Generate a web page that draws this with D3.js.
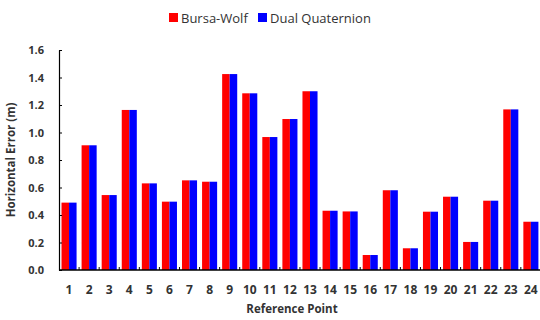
<!DOCTYPE html>
<html>
<head>
<meta charset="utf-8">
<script src="https://cdn.jsdelivr.net/npm/d3@7"></script>
<style>
  body { margin: 0; background: #fff; }
  svg text { font-family: "Open Sans", sans-serif; fill: #333; }
  .tick-label { font-weight: 700; font-size: 11px; }
  .axis-title { font-weight: 700; font-size: 11.5px; }
  .legend-text { font-size: 13px; }
</style>
</head>
<body>
<div id="chart"></div>
<script>
// Horizontal error per reference point, two transformation methods
const points = ["1","2","3","4","5","6","7","8","9","10","11","12","13","14","15","16","17","18","19","20","21","22","23","24"];
const bursaWolf = [0.49, 0.907, 0.545, 1.164, 0.63, 0.497, 0.652, 0.642, 1.425, 1.285, 0.967, 1.098, 1.3, 0.431, 0.426, 0.109, 0.58, 0.158, 0.424, 0.533, 0.204, 0.504, 1.168, 0.351];
const dualQuaternion = [0.49, 0.907, 0.545, 1.164, 0.63, 0.497, 0.652, 0.642, 1.425, 1.285, 0.967, 1.098, 1.3, 0.431, 0.426, 0.109, 0.58, 0.158, 0.424, 0.533, 0.204, 0.504, 1.168, 0.351];
const seriesNames = ["Bursa-Wolf", "Dual Quaternion"];
const seriesColors = ["#ff0000", "#0000ff"];
const yTicks = [0, 0.2, 0.4, 0.6, 0.8, 1.0, 1.2, 1.4, 1.6];

const width = 540, height = 320;
const margin = { top: 50, right: 0, bottom: 50, left: 59 };

const svg = d3.select("#chart").append("svg")
    .attr("width", width)
    .attr("height", height);

const x = d3.scaleBand()
    .domain(points)
    .range([margin.left, margin.left + 24 * 20.08])
    .paddingInner(0.25)
    .paddingOuter(0.125);

const xSub = d3.scaleBand()
    .domain(seriesNames)
    .range([0, x.bandwidth()]);

const y = d3.scaleLinear()
    .domain([0, 1.6])
    .range([height - margin.bottom, margin.top]);

const rows = points.map((p, i) => ({ point: p, values: [bursaWolf[i], dualQuaternion[i]] }));

// bars
const groups = svg.append("g").selectAll("g")
    .data(rows)
    .enter().append("g")
    .attr("transform", d => `translate(${x(d.point)},0)`);

groups.selectAll("rect")
    .data(d => d.values.map((v, k) => ({ name: seriesNames[k], value: v, k })))
    .enter().append("rect")
    .attr("x", d => xSub(d.name))
    .attr("y", d => y(d.value))
    .attr("width", xSub.bandwidth())
    .attr("height", d => y(0) - y(d.value))
    .attr("fill", d => seriesColors[d.k]);

// y axis, ticks pointing inward
const yAxis = svg.append("g")
    .attr("transform", `translate(${margin.left},0)`)
    .call(d3.axisLeft(y).tickValues(yTicks).tickFormat(d3.format(".1f")).tickSize(-3).tickSizeOuter(0).tickPadding(15));
yAxis.select(".domain").attr("stroke", "#000").attr("stroke-width", 1.2);
yAxis.selectAll(".tick line").attr("stroke", "#000");
yAxis.selectAll(".tick text").attr("class", "tick-label");

// x axis: ticks sit between categories
const step = x.step();
const xAxis = svg.append("g")
    .attr("transform", `translate(0,${y(0)})`);
xAxis.append("line")
    .attr("x1", margin.left).attr("x2", width)
    .attr("stroke", "#000").attr("stroke-width", 1.5);
xAxis.selectAll("line.sep")
    .data(points.slice(1))
    .enter().append("line")
    .attr("class", "sep")
    .attr("x1", d => x(d) - step * 0.125).attr("x2", d => x(d) - step * 0.125)
    .attr("y1", 0).attr("y2", -3)
    .attr("stroke", "#000");
xAxis.selectAll("text")
    .data(points)
    .enter().append("text")
    .attr("class", "tick-label")
    .attr("x", d => x(d) + x.bandwidth() / 2)
    .attr("y", 24)
    .attr("text-anchor", "middle")
    .style("font-size", "12px")
    .text(d => d);

// axis titles
svg.append("text")
    .attr("class", "axis-title")
    .attr("x", 292)
    .attr("y", 313)
    .attr("text-anchor", "middle")
    .text("Reference Point");

svg.append("text")
    .attr("class", "axis-title")
    .attr("transform", `translate(15,${(y(0) + y(1.6)) / 2}) rotate(-90)`)
    .attr("text-anchor", "middle")
    .text("Horizontal Error (m)");

// legend
const legend = svg.append("g").attr("transform", "translate(169,13)");
const legendX = [0, 89];
seriesNames.forEach((name, k) => {
    const item = legend.append("g").attr("transform", `translate(${legendX[k]},0)`);
    item.append("rect")
        .attr("width", 9).attr("height", 9)
        .attr("fill", seriesColors[k]);
    item.append("text")
        .attr("class", "legend-text")
        .attr("x", 12).attr("y", 9.5)
        .text(name);
});
</script>
</body>
</html>
